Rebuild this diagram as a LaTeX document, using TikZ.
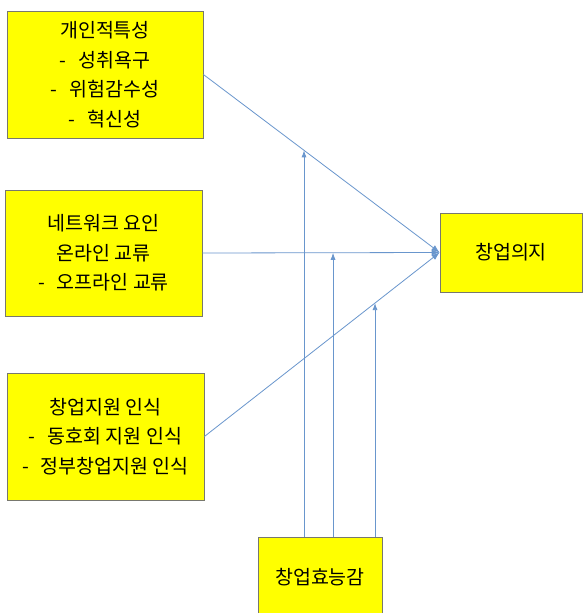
\documentclass[tikz,border=0pt]{standalone}
\usepackage{fontspec}
\setmainfont{Noto Sans CJK KR}
\usetikzlibrary{arrows.meta}
\definecolor{boxfill}{RGB}{255,255,0}
\definecolor{boxline}{RGB}{120,120,110}
\definecolor{conncol}{RGB}{105,150,205}
\begin{document}
\begin{tikzpicture}[x=1pt,y=-1pt,
  box/.style={draw=boxline, fill=boxfill, line width=0.8pt, inner sep=0pt,
    align=center, font=\fontsize{19.5}{29.5}\selectfont},
  conn/.style={draw=conncol, line width=0.8pt},
  tip/.style={-{Latex[length=7pt,width=5pt]}, conncol},
  bigtip/.style={-{Latex[length=8pt,width=6pt]}, conncol}]
\useasboundingbox (0,0) rectangle (583,613);
\fill[white] (0,0) rectangle (583,613);

\node[box, minimum width=196pt, minimum height=127pt] (b1) at (105,74.5)
  {개인적특성\\-\hspace{12pt}성취욕구\\-\hspace{12pt}위험감수성\\-\hspace{12pt}혁신성};
\node[box, minimum width=197pt, minimum height=126pt] (b2) at (103.5,253)
  {네트워크 요인\\온라인 교류\\-\hspace{12pt}오프라인 교류};
\node[box, minimum width=197pt, minimum height=127pt] (b3) at (105.5,436.5)
  {창업지원 인식\\-\hspace{12pt}동호회 지원 인식\\-\hspace{12pt}정부창업지원 인식};
\node[box, minimum width=142pt, minimum height=79pt] (b5) at (511,252.5)
  {창업의지};
\node[box, minimum width=124pt, minimum height=80pt] (b4) at (320,577)
  {창업효능감};

\draw[conn, bigtip] (b1.east) -- (b5.west);
\draw[conn, bigtip] (b2.east) -- (b5.west);
\draw[conn, bigtip] (b3.east) -- (b5.west);

\coordinate (t1) at (intersection of b1.east--b5.west and 304,0--304,600);
\coordinate (t2) at (intersection of b2.east--b5.west and 333,0--333,600);
\coordinate (t3) at (intersection of b3.east--b5.west and 375,0--375,600);

\draw[conn, tip] (b4.north -| t1) -- (t1);
\draw[conn, tip] (b4.north -| t2) -- (t2);
\draw[conn, tip] (b4.north -| t3) -- (t3);
\end{tikzpicture}
\end{document}
